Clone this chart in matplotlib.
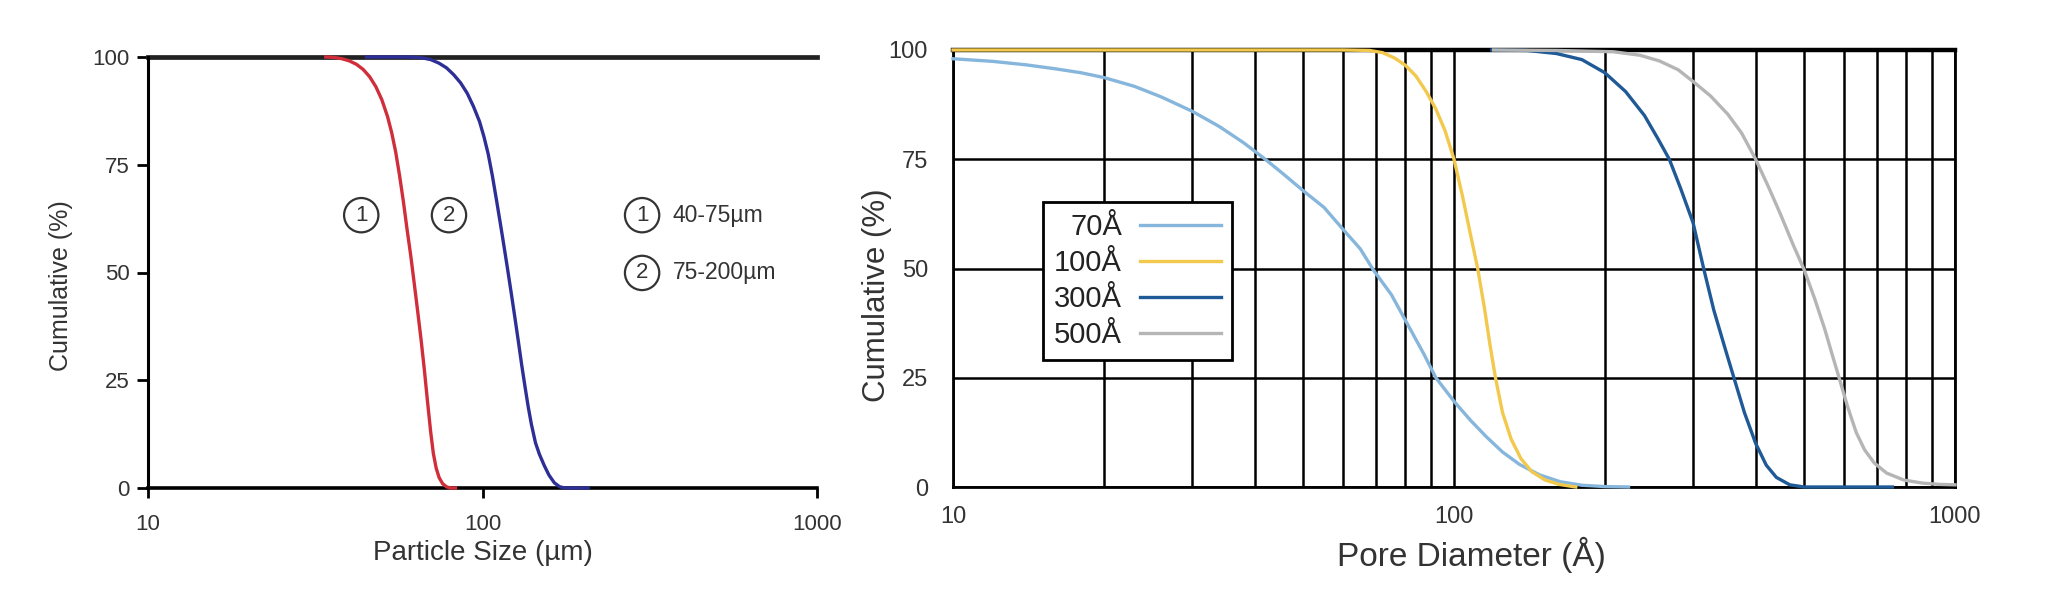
import matplotlib.pyplot as plt
from matplotlib.ticker import FixedLocator, NullLocator

plt.rcParams['font.family'] = ['Liberation Sans', 'DejaVu Sans']

# left chart: particle size distributions
size_40_75 = [34, 36, 38, 40, 42, 44, 46, 48, 50, 52, 53.5, 55, 56.5, 58, 59.5, 61, 62.5,
              64, 65.5, 67, 68.5, 70, 71.3, 72.7, 74.2, 76, 78, 80, 83]
cum_40_75 = [100, 99.9, 99.6, 99.1, 98.3, 97.1, 95.4, 93.1, 90.1, 86.2, 82.5, 78, 72.5,
             66.5, 60, 54, 47.5, 41, 34.5, 27.5, 20, 13, 8, 4.6, 2.4, 1, 0.3, 0, 0]
size_75_200 = [45, 60, 66, 70, 74, 78, 82, 86, 90, 94, 98, 101, 104, 107, 110, 113, 116,
               119, 122, 125, 128, 131, 134, 137, 140, 144, 148, 153, 158, 164, 170, 176, 207]
cum_75_200 = [100, 100, 99.8, 99.4, 98.6, 97.5, 95.9, 94, 91.6, 88.5, 85, 81.5, 77.5,
              72.5, 67, 61.5, 56, 50.5, 45, 39.5, 34, 28.5, 23.5, 18.8, 14.8, 10.5, 7.8,
              5.2, 3, 1.2, 0.3, 0, 0]

# right chart: pore diameter distributions
pore_70 = [10, 12, 14, 16, 18, 20, 23, 26, 30, 34, 38, 42, 46, 50, 55, 60, 65, 69, 75,
           81, 87, 92, 100, 108, 116, 125, 135, 148, 163, 180, 200, 223]
cum_70 = [98, 97.4, 96.6, 95.7, 94.8, 93.7, 91.7, 89.3, 86, 82.5, 78.8, 75, 71.3, 67.8,
          64, 59, 54.5, 49.7, 44, 37, 30.5, 25, 19.6, 15.2, 11.5, 8, 5.2, 2.8, 1.2, 0.4,
          0.1, 0]
pore_100 = [10, 60, 67.8, 72, 76, 80, 84, 88, 92, 96, 100, 104, 108, 111.5, 115, 118,
            121, 125, 130, 136, 143, 152, 162, 175]
cum_100 = [100, 100, 99.9, 99.4, 98.2, 96.5, 94, 90.5, 86.5, 81.5, 75, 66.5, 57.5, 50,
           41, 32.5, 25, 17, 11, 6.5, 3.5, 1.6, 0.6, 0]
pore_300 = [119, 140, 160, 180, 200, 220, 240, 255, 269, 283, 300, 315, 330, 347, 362,
            380, 400, 420, 440, 468, 500, 750]
cum_300 = [100, 99.9, 99.2, 97.8, 94.8, 90.5, 85, 79.8, 75, 68.5, 60.5, 50, 40.5, 32,
           25, 17, 10, 5, 2.2, 0.5, 0, 0]
pore_500 = [120, 160, 208, 235, 257, 280, 300, 325, 352, 375, 400, 425, 450, 475, 500,
            525, 550, 568, 587, 610, 635, 660, 690, 730, 790, 860, 930, 1000]
cum_500 = [100, 99.9, 99.6, 98.8, 97.5, 95.5, 92.8, 89.5, 85.3, 81, 75, 68.5, 62, 55.5,
           49.7, 43, 36, 30.5, 25, 18.5, 12.5, 8.5, 5.5, 3.2, 1.6, 0.9, 0.6, 0.5]

y_ticks = [0, 25, 50, 75, 100]
x_ticks = [10, 100, 1000]
x_labels = ['10', '100', '1000']

fig = plt.figure(figsize=(20.46, 5.98), dpi=100)

# ---------- left panel ----------
ax1 = fig.add_axes([148 / 2046, 1 - 488 / 598, 669 / 2046, 431 / 598])
ax1.set_xscale('log')
ax1.set_xlim(10, 1000)
ax1.set_ylim(0, 100)
for s in ['top', 'right']:
    ax1.spines[s].set_visible(False)
ax1.spines['left'].set_linewidth(2.2)
ax1.spines['bottom'].set_linewidth(2.6)
ax1.axhline(100, color='#222222', lw=3.4, clip_on=False, zorder=2)
ax1.xaxis.set_major_locator(FixedLocator(x_ticks))
ax1.xaxis.set_minor_locator(NullLocator())
ax1.set_xticklabels(x_labels)
ax1.set_yticks(y_ticks)
ax1.tick_params(axis='y', length=8, width=2, pad=5, labelsize=16, labelcolor='#333333')
ax1.tick_params(axis='x', length=7, width=2, pad=12, labelsize=16, labelcolor='#333333')
ax1.plot(size_40_75, cum_40_75, color='#cf2e3a', lw=2.4, clip_on=False, zorder=3)
ax1.plot(size_75_200, cum_75_200, color='#2e2f96', lw=2.4, clip_on=False, zorder=3)
ax1.set_xlabel('Particle Size (µm)', fontsize=20, color='#333333', labelpad=3)
ax1.set_ylabel('Cumulative (%)', fontsize=18, color='#333333')
ax1.yaxis.set_label_coords(-0.112, 0.47)

circ = dict(boxstyle='circle,pad=0.3', fc='white', ec='#333333', lw=1.6)
ax1.text(43.4, 63.3, '1', fontsize=16, ha='center', va='center', color='#333333', bbox=circ)
ax1.text(79.4, 63.3, '2', fontsize=16, ha='center', va='center', color='#333333', bbox=circ)
ax1.text(300, 63.3, '1', fontsize=16, ha='center', va='center', color='#333333', bbox=circ)
ax1.text(300, 49.9, '2', fontsize=16, ha='center', va='center', color='#333333', bbox=circ)
ax1.text(371, 63.3, '40-75µm', fontsize=16.5, ha='left', va='center', color='#333333')
ax1.text(371, 49.9, '75-200µm', fontsize=16.5, ha='left', va='center', color='#333333')

# ---------- right panel ----------
ax2 = fig.add_axes([953 / 2046, 1 - 487 / 598, 1002 / 2046, 437 / 598])
ax2.set_xscale('log')
ax2.set_xlim(10, 1000)
ax2.set_ylim(0, 100)
for s in ax2.spines.values():
    s.set_linewidth(2)
ax2.spines['top'].set_linewidth(3.2)
ax2.xaxis.set_major_locator(FixedLocator(x_ticks))
ax2.set_xticklabels(x_labels)
ax2.set_yticks(y_ticks)
ax2.grid(True, which='both', axis='x', color='black', lw=1.8)
ax2.grid(True, which='major', axis='y', color='black', lw=1.8)
ax2.tick_params(which='both', length=0)
ax2.tick_params(axis='y', pad=18, labelsize=17, labelcolor='#333333')
ax2.tick_params(axis='x', pad=14, labelsize=17, labelcolor='#333333')

ax2.plot(pore_70, cum_70, color='#86b6dc', lw=2.4, clip_on=False, zorder=3, label='70Å')
ax2.plot(pore_100, cum_100, color='#f2c94c', lw=2.4, clip_on=False, zorder=3, label='100Å')
ax2.plot(pore_300, cum_300, color='#1f5a96', lw=2.4, clip_on=False, zorder=3, label='300Å')
ax2.plot(pore_500, cum_500, color='#b5b5b5', lw=2.4, clip_on=False, zorder=3, label='500Å')
ax2.set_xlabel('Pore Diameter (Å)', fontsize=24, color='#333333', labelpad=6)
ax2.xaxis.label.set_x(0.517)
ax2.set_ylabel('Cumulative (%)', fontsize=22.5, color='#333333')
ax2.yaxis.set_label_coords(-0.061, 0.44)

leg = ax2.legend(loc='upper left', bbox_to_anchor=((1043 - 953) / 1002, (487 - 202) / 437),
                 borderaxespad=0, markerfirst=False, fontsize=21, frameon=True,
                 fancybox=False, framealpha=1, edgecolor='black', handlelength=2.8,
                 labelspacing=0.27, handletextpad=0.6, borderpad=0.38)
leg.get_frame().set_linewidth(2)
for t in leg.get_texts():
    t.set_color('#222222')
leg.set_zorder(5)

fig.savefig('out.png', dpi=100, facecolor='white')
